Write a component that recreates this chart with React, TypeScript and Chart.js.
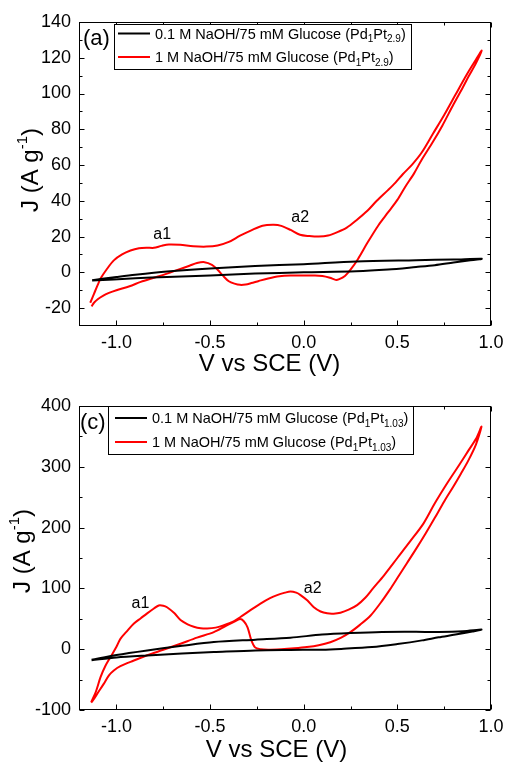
import React, { useEffect, useRef } from 'react';
import { Chart, registerables } from 'chart.js';

Chart.register(...registerables);

const FONT = "'Liberation Sans', Arial, Helvetica, sans-serif";

// ---------- axis ticks ----------
const xMajorTicks = [-1.0, -0.5, 0.0, 0.5, 1.0];
const xMinorTicks = [-0.75, -0.25, 0.25, 0.75];
const aYMajorTicks = [-20, 0, 20, 40, 60, 80, 100, 120, 140];
const aYMinorTicks = [-10, 10, 30, 50, 70, 90, 110, 130];
const cYMajorTicks = [-100, 0, 100, 200, 300, 400];
const cYMinorTicks = [-50, 50, 150, 250, 350];

// ---------- text ----------
const xTitle = 'V vs SCE (V)';
const yTitleMain = 'J (A g';
const yTitleSup = '-1';
const yTitleEnd = ')';
const series1Label = '0.1 M NaOH/75 mM Glucose';
const series2Label = '1 M NaOH/75 mM Glucose';
const aCatalyst = ['Pd', '1', 'Pt', '2.9'];
const cCatalyst = ['Pd', '1', 'Pt', '1.03'];
const aTag = '(a)';
const cTag = '(c)';
const peakNames = ['a1', 'a2'];
const aPeakV = [-0.756, -0.019];
const aPeakJ = [21.2, 30.7];
const cPeakV = [-0.872, 0.048];
const cPeakJ = [75, 100];

// ---------- panel (a): Pd1Pt2.9 ----------
const aBlackV = [-1.13, -1.0, -0.9, -0.73, -0.5, -0.26, 0.0, 0.28, 0.6, 0.8, 0.95,
  0.88, 0.8, 0.7, 0.6, 0.45, 0.28, 0.0, -0.26, -0.5, -0.73, -0.9, -1.13];
const aBlackJ = [-4.4, -2.6, -1.3, 0.5, 2.2, 3.5, 4.6, 6.1, 6.8, 7.2, 7.6,
  6.6, 5.5, 4.0, 3.0, 1.6, 0.6, 0.0, -0.7, -1.8, -2.6, -3.3, -4.6];

const aRedV = [-1.14, -1.12, -1.10, -1.085, -1.05, -1.014, -0.97, -0.925, -0.88, -0.84,
  -0.80, -0.76, -0.72, -0.66, -0.59, -0.52, -0.46, -0.40, -0.34, -0.28,
  -0.22, -0.16, -0.12, -0.07, -0.02, 0.03, 0.08, 0.13, 0.18, 0.23,
  0.28, 0.34, 0.39, 0.45, 0.49, 0.53, 0.58, 0.63, 0.69, 0.75,
  0.81, 0.87, 0.92, 0.95,
  0.92, 0.88, 0.85, 0.80, 0.74, 0.69, 0.63, 0.59, 0.54, 0.50,
  0.45, 0.40, 0.34, 0.29, 0.25, 0.22, 0.19, 0.17, 0.14, 0.10,
  0.05, 0.0, -0.07, -0.13, -0.19, -0.24, -0.28, -0.31, -0.34, -0.37,
  -0.40, -0.43, -0.46, -0.49, -0.53, -0.57, -0.61, -0.67, -0.73, -0.80,
  -0.87, -0.93, -1.0, -1.04, -1.07, -1.10, -1.12, -1.133];
const aRedJ = [-17, -12, -7, -3.5, 2, 6.7, 10, 12.2, 13.5, 13.8,
  13.7, 14.8, 15.6, 15.4, 14.6, 14.4, 15, 17, 20.5, 23.5,
  26.1, 26.6, 26, 23.7, 21, 20.3, 20, 20.6, 22.5, 25,
  29, 34.4, 40, 46, 50.2, 55, 60.4, 67, 77.5, 88,
  99.3, 110.5, 119, 124,
  117, 109.5, 103.5, 94, 82, 73, 63, 55.5, 47.5, 40.5,
  33.5, 26.5, 16.5, 7.5, 1.5, -2, -3.8, -4.2, -3, -2,
  -1.8, -1.8, -1.8, -2.2, -3.4, -4.8, -6, -6.8, -7, -6.3,
  -5, -2, 1.5, 4.2, 5.7, 5.2, 3.7, 1.5, -0.7, -3,
  -5.3, -7.8, -10, -11.5, -13, -15, -17, -19];

// ---------- panel (c): Pd1Pt1.03 ----------
const cBlackV = [-1.133, -1.0, -0.836, -0.65, -0.48, -0.258, -0.071, 0.098, 0.25, 0.418, 0.6, 0.72, 0.85, 0.949,
  0.9, 0.81, 0.72, 0.632, 0.5, 0.365, 0.2, 0.098, -0.071, -0.258, -0.48, -0.65, -0.836, -1.0, -1.133];
const cBlackJ = [-17.4, -9.5, -2, 5.5, 11.7, 15.7, 19, 24, 26.5, 28.3, 28.5, 28.3, 29.5, 32.2,
  29, 24, 19.5, 14.5, 8.5, 3.5, 0.5, -0.8, -1.2, -2, -4.8, -7, -10.2, -13.5, -18];

const cRedV = [-1.135, -1.11, -1.085, -1.06, -1.032, -1.0, -0.979, -0.94, -0.908, -0.87,
  -0.836, -0.80, -0.774, -0.75, -0.73, -0.69, -0.658, -0.62, -0.587, -0.55,
  -0.516, -0.47, -0.427, -0.38, -0.338, -0.29, -0.231, -0.18, -0.142, -0.10,
  -0.071, -0.04, -0.017, 0.02, 0.054, 0.09, 0.125, 0.16, 0.196, 0.24,
  0.285, 0.33, 0.37, 0.43, 0.50, 0.57, 0.64, 0.70, 0.77, 0.83,
  0.88, 0.92, 0.949,
  0.92, 0.88, 0.84, 0.80, 0.75, 0.70, 0.65, 0.60, 0.55, 0.50,
  0.46, 0.41, 0.356, 0.30, 0.249, 0.20, 0.142, 0.08, 0.017, -0.05,
  -0.12, -0.19, -0.23, -0.26, -0.28, -0.30, -0.32, -0.34, -0.37, -0.42,
  -0.48, -0.57, -0.658, -0.75, -0.836, -0.91, -0.979, -1.014, -1.04, -1.068,
  -1.10, -1.125, -1.135];
const cRedJ = [-87, -70, -46, -28, -13, 4, 17, 31, 42, 51,
  59, 67, 72, 71.5, 69, 59, 48, 41, 37, 34.5,
  34, 35.5, 39.5, 45, 53, 63, 75, 84, 89, 93,
  95, 93, 89, 80, 69, 62, 59, 58.5, 60, 65,
  72.5, 85, 100, 122, 150, 178, 207, 240, 275, 303,
  327, 346, 366,
  337, 311, 289, 268, 243, 216, 190, 165, 141, 117,
  98, 76, 55, 40, 28, 19, 11.5, 6.5, 3.5, 1.5,
  0, -0.8, 0, 3, 15, 36, 46, 49.5, 45.5, 37.5,
  28, 19, 9, -1, -10, -19, -28, -35, -43, -57,
  -72, -84, -88];

type Part = { t: string; k: 'n' | 'sub' | 'sup' };

function drawParts(ctx: CanvasRenderingContext2D, parts: Part[], x: number, base: number,
  size: number, small: number, subDy: number, supDy: number, measureOnly = false): number {
  let cx = x;
  for (const p of parts) {
    const fs = p.k === 'n' ? size : small;
    ctx.font = `${fs}px ${FONT}`;
    const dy = p.k === 'sub' ? subDy : p.k === 'sup' ? -supDy : 0;
    if (!measureOnly) ctx.fillText(p.t, cx, base + dy);
    cx += ctx.measureText(p.t).width;
  }
  return cx - x;
}

function legendParts(label: string, cat: string[]): Part[] {
  return [
    { t: label + ' (' + cat[0], k: 'n' },
    { t: cat[1], k: 'sub' },
    { t: cat[2], k: 'n' },
    { t: cat[3], k: 'sub' },
    { t: ')', k: 'n' },
  ];
}

type Spec = {
  id: string;
  height: number;
  padTop: number;
  xAxisH: number;
  yMin: number; yMax: number;
  yMajor: number[]; yMinor: number[];
  blackV: number[]; blackJ: number[]; redV: number[]; redJ: number[];
  catalyst: string[];
  tag: string; tagX: number; tagY: number;
  box: [number, number, number, number];
  rowY: [number, number];
  lineX: [number, number];
  textX: number;
  xTitleX: number; xTitleY: number;
  yTitleX: number; yTitleY: number;
  peakV: number[]; peakJ: number[];
};

function makeDecor(s: Spec) {
  return {
    id: 'decor_' + s.id,
    afterDraw(chart: any) {
      const ctx: CanvasRenderingContext2D = chart.ctx;
      const a = chart.chartArea;
      const xs = chart.scales.x;
      const ys = chart.scales.y;
      ctx.save();
      ctx.strokeStyle = '#000';
      ctx.fillStyle = '#000';
      ctx.lineWidth = 1;
      const L = Math.round(a.left) + 0.5;
      const R = Math.round(a.right) - 0.5;
      const T = Math.round(a.top) + 0.5;
      const B = Math.round(a.bottom) - 0.5;
      ctx.strokeRect(L, T, R - L, B - T);
      ctx.beginPath();
      const xt = (vals: number[], len: number) => {
        for (const v of vals) {
          const px = Math.round(xs.getPixelForValue(v)) + 0.5;
          ctx.moveTo(px, B); ctx.lineTo(px, B - len);
          ctx.moveTo(px, T); ctx.lineTo(px, T + len);
        }
      };
      const yt = (vals: number[], len: number) => {
        for (const v of vals) {
          const py = Math.round(ys.getPixelForValue(v)) + 0.5;
          ctx.moveTo(L, py); ctx.lineTo(L + len, py);
          ctx.moveTo(R, py); ctx.lineTo(R - len, py);
        }
      };
      xt(xMajorTicks, 5); xt(xMinorTicks, 3);
      yt(s.yMajor, 5); yt(s.yMinor, 3);
      ctx.stroke();

      // legend box
      const [bx, by, bw, bh] = s.box;
      ctx.fillStyle = '#fff';
      ctx.fillRect(bx, by, bw, bh);
      ctx.strokeStyle = '#000';
      ctx.lineWidth = 1;
      ctx.strokeRect(bx + 0.5, by + 0.5, bw, bh);
      const colors = ['#000000', '#ff0000'];
      const labels = [series1Label, series2Label];
      ctx.textAlign = 'left';
      ctx.textBaseline = 'alphabetic';
      for (let i = 0; i < 2; i++) {
        ctx.strokeStyle = colors[i];
        ctx.lineWidth = 2;
        ctx.beginPath();
        ctx.moveTo(s.lineX[0], s.rowY[i]);
        ctx.lineTo(s.lineX[1], s.rowY[i]);
        ctx.stroke();
        ctx.fillStyle = '#000';
        drawParts(ctx, legendParts(labels[i], s.catalyst), s.textX, s.rowY[i] + 5, 14.5, 10, 3.5, 0);
      }

      // panel tag
      ctx.font = `22px ${FONT}`;
      ctx.textBaseline = 'middle';
      ctx.fillText(s.tag, s.tagX, s.tagY);

      // peak labels
      ctx.font = `16px ${FONT}`;
      ctx.textAlign = 'center';
      for (let i = 0; i < peakNames.length; i++) {
        ctx.fillText(peakNames[i], xs.getPixelForValue(s.peakV[i]), ys.getPixelForValue(s.peakJ[i]));
      }

      // x title
      ctx.font = `24px ${FONT}`;
      ctx.fillText(xTitle, s.xTitleX, s.xTitleY);

      // y title (rotated, with superscript)
      ctx.save();
      ctx.translate(s.yTitleX, s.yTitleY);
      ctx.rotate(-Math.PI / 2);
      ctx.textAlign = 'left';
      ctx.textBaseline = 'alphabetic';
      const yParts: Part[] = [
        { t: yTitleMain, k: 'n' },
        { t: yTitleSup, k: 'sup' },
        { t: yTitleEnd, k: 'n' },
      ];
      const w = drawParts(ctx, yParts, 0, 0, 24, 15, 0, 11, true);
      drawParts(ctx, yParts, -w / 2, 8.5, 24, 15, 0, 11);
      ctx.restore();

      ctx.restore();
    },
  };
}

const pts = (v: number[], j: number[]) => v.map((x, i) => ({ x, y: j[i] }));

function Panel({ s }: { s: Spec }) {
  const ref = useRef<HTMLCanvasElement>(null);
  useEffect(() => {
    if (!ref.current) return;
    const chart = new Chart(ref.current, {
      type: 'scatter',
      data: {
        datasets: [
          {
            label: series1Label,
            data: pts(s.blackV, s.blackJ),
            borderColor: '#000000',
            backgroundColor: '#000000',
            borderWidth: 2,
            showLine: true,
            pointRadius: 0,
            tension: 0.3,
            fill: false,
          },
          {
            label: series2Label,
            data: pts(s.redV, s.redJ),
            borderColor: '#ff0000',
            backgroundColor: '#ff0000',
            borderWidth: 2,
            showLine: true,
            pointRadius: 0,
            tension: 0.3,
            fill: false,
          },
        ],
      },
      options: {
        responsive: false,
        animation: false,
        devicePixelRatio: 1,
        layout: { padding: { left: 0, right: 19, top: s.padTop, bottom: 0 } },
        plugins: {
          legend: { display: false },
          tooltip: { enabled: false },
          title: { display: false },
        },
        scales: {
          x: {
            type: 'linear',
            min: -1.2,
            max: 1.0,
            grid: { display: false, drawTicks: false },
            border: { display: false },
            afterBuildTicks: (sc: any) => { sc.ticks = xMajorTicks.map((v) => ({ value: v })); },
            afterFit: (sc: any) => { sc.height = s.xAxisH; },
            ticks: {
              color: '#000',
              font: { family: FONT, size: 18 },
              padding: 6,
              maxRotation: 0,
              autoSkip: false,
              callback: (v: any) => Number(v).toFixed(1),
            },
          },
          y: {
            type: 'linear',
            min: s.yMin,
            max: s.yMax,
            grid: { display: false, drawTicks: false },
            border: { display: false },
            afterBuildTicks: (sc: any) => { sc.ticks = s.yMajor.map((v) => ({ value: v })); },
            afterFit: (sc: any) => { sc.width = 79; },
            ticks: {
              color: '#000',
              font: { family: FONT, size: 18 },
              padding: 8,
              autoSkip: false,
              callback: (v: any) => String(v),
            },
          },
        },
      } as any,
      plugins: [makeDecor(s)],
    });
    return () => chart.destroy();
  }, []);
  return (
    <canvas
      ref={ref}
      width={510}
      height={s.height}
      style={{ display: 'block', width: 510, height: s.height }}
    />
  );
}

const specA: Spec = {
  id: 'a', height: 383, padTop: 22, xAxisH: 57,
  yMin: -30, yMax: 140, yMajor: aYMajorTicks, yMinor: aYMinorTicks,
  blackV: aBlackV, blackJ: aBlackJ, redV: aRedV, redJ: aRedJ,
  catalyst: aCatalyst,
  tag: aTag, tagX: 83, tagY: 39,
  box: [114, 24, 297, 45], rowY: [33.5, 57], lineX: [118, 150], textX: 155,
  xTitleX: 269.5, xTitleY: 364,
  yTitleX: 29.5, yTitleY: 170,
  peakV: aPeakV, peakJ: aPeakJ,
};

const specC: Spec = {
  id: 'c', height: 382, padTop: 23, xAxisH: 55,
  yMin: -100, yMax: 400, yMajor: cYMajorTicks, yMinor: cYMinorTicks,
  blackV: cBlackV, blackJ: cBlackJ, redV: cRedV, redJ: cRedJ,
  catalyst: cCatalyst,
  tag: cTag, tagX: 80, tagY: 40,
  box: [108, 23, 305, 48], rowY: [35, 59], lineX: [115, 147], textX: 152,
  xTitleX: 276.5, xTitleY: 367,
  yTitleX: 21.5, yTitleY: 168,
  peakV: cPeakV, peakJ: cPeakJ,
};

export default function App() {
  return (
    <div style={{ position: 'absolute', left: 0, top: 0, width: 510, height: 765, background: '#fff' }}>
      <Panel s={specA} />
      <Panel s={specC} />
    </div>
  );
}
